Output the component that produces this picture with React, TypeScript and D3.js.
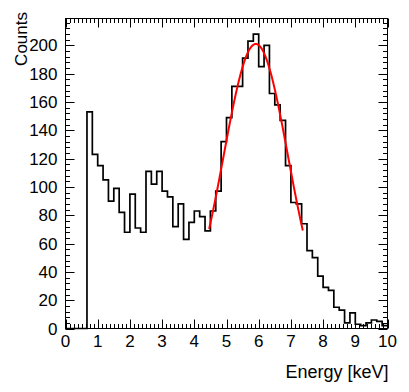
import React from "react";
import * as d3 from "d3";

// histogram: 60 bins between 0 and 10 keV
const X_MIN = 0;
const X_MAX = 10;
const counts = [
  0, 0, 0, 0, 153, 123, 115, 105, 90, 99,
  82, 68, 95, 71, 68, 111, 102, 111, 97, 93,
  72, 88, 63, 75, 83, 79, 69, 83, 97, 132,
  149, 171, 171, 191, 203, 208, 185, 200, 166, 158,
  147, 115, 89, 88, 74, 55, 50, 37, 29, 27,
  15, 13, 4, 11, 3, 2, 4, 6, 5, 2,
];

const xTicks = [0, 1, 2, 3, 4, 5, 6, 7, 8, 9, 10];
const yTicks = [0, 20, 40, 60, 80, 100, 120, 140, 160, 180, 200];

// gaussian fit result
const fitAmp = 201;
const fitMean = 5.91;
const fitSigma = 1.0;
const fitRange = [4.46, 7.37];

const W = 409;
const H = 392;
const FONT = "'Liberation Sans', Arial, Helvetica, sans-serif";

export default function App() {
  const left = 65.5, right = 387.5, top = 18.5, bottom = 328.5;
  const x = d3.scaleLinear().domain([X_MIN, X_MAX]).range([left, right]);
  const y = d3.scaleLinear().domain([0, 219]).range([bottom, top]);

  const binW = (X_MAX - X_MIN) / counts.length;
  const pts: [number, number][] = counts.map((c, i) => [X_MIN + i * binW, c]);
  pts.push([X_MAX, counts[counts.length - 1]]);
  const histPath = d3
    .line<[number, number]>()
    .x((d) => x(d[0]))
    .y((d) => y(d[1]))
    .curve(d3.curveStepAfter)(pts);

  const fitX = d3.range(fitRange[0], fitRange[1] + 1e-9, (fitRange[1] - fitRange[0]) / 200);
  const fitPath = d3
    .line<number>()
    .x((v) => x(v))
    .y((v) => y(fitAmp * Math.exp(-0.5 * ((v - fitMean) / fitSigma) ** 2)))(fitX);

  // minor ticks: x every 1/8, y every 4
  const xMinor = d3.range(0, 80 + 1).map((i) => i / 8);
  const yMinor = d3.range(0, 219, 4);
  const majLen = 9;
  const minLen = 4.5;

  return (
    <div style={{ position: "absolute", left: 0, top: 0 }}>
      <svg width={W} height={H} style={{ display: "block", background: "#fff" }}>
        <rect x={0} y={0} width={W} height={H} fill="#fff" />

        {/* ticks bottom + top */}
        <g stroke="#000" strokeWidth={1}>
          {xMinor.map((v, i) => {
            const len = i % 8 === 0 ? majLen : minLen;
            const px = Math.round(x(v)) + 0.5;
            return (
              <g key={"xt" + i}>
                <line x1={px} x2={px} y1={bottom} y2={bottom - len} />
                <line x1={px} x2={px} y1={top} y2={top + len} />
              </g>
            );
          })}
          {yMinor.map((v, i) => {
            const len = v % 20 === 0 ? majLen : minLen;
            const py = Math.round(y(v)) + 0.5;
            return (
              <g key={"yt" + i}>
                <line x1={left} x2={left + len} y1={py} y2={py} />
                <line x1={right} x2={right - len} y1={py} y2={py} />
              </g>
            );
          })}
        </g>

        <path d={histPath || ""} fill="none" stroke="#000" strokeWidth={1.7} />
        <path d={fitPath || ""} fill="none" stroke="#ff0000" strokeWidth={2} />

        <rect
          x={left}
          y={top}
          width={right - left}
          height={bottom - top}
          fill="none"
          stroke="#000"
          strokeWidth={1}
        />

        {/* tick labels */}
        <g fontFamily={FONT} fontSize={17} fill="#000">
          {xTicks.map((t) => (
            <text key={"xl" + t} x={x(t)} y={bottom + 18} textAnchor="middle">
              {t}
            </text>
          ))}
          {yTicks.map((t) => (
            <text key={"yl" + t} x={left - 8} y={y(t) + 6} textAnchor="end">
              {t}
            </text>
          ))}
        </g>

        <text x={right + 1} y={378} textAnchor="end" fontFamily={FONT} fontSize={18}>
          Energy [keV]
        </text>
        <text
          transform={`translate(26.5, 12) rotate(-90)`}
          textAnchor="end"
          fontFamily={FONT}
          fontSize={17}
        >
          Counts
        </text>
      </svg>
    </div>
  );
}
